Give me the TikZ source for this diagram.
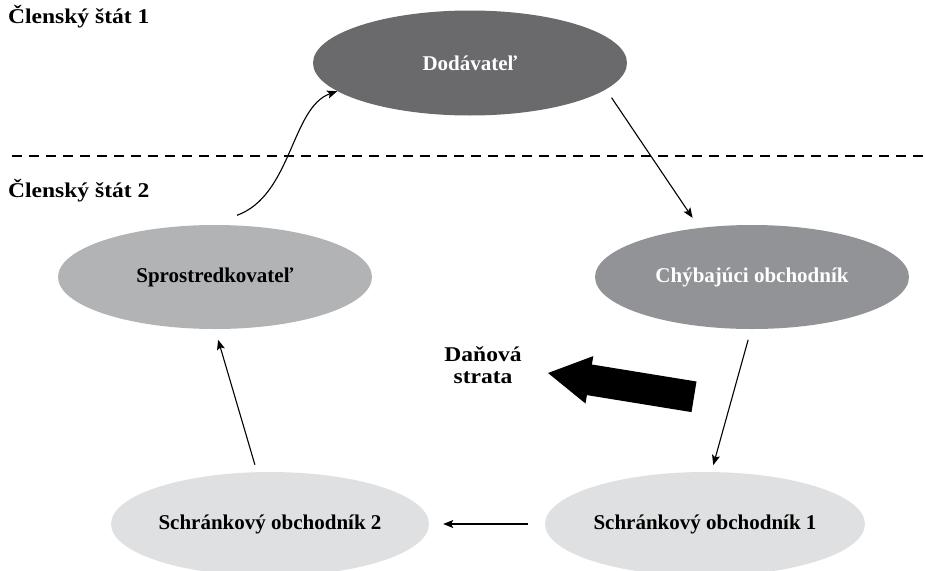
\documentclass[tikz,border=0pt]{standalone}
\usepackage{fontspec}
\setmainfont{Liberation Serif}
\newfontfamily\widefont{Liberation Serif}[FakeStretch=1.12]
\usetikzlibrary{shapes.geometric,arrows.meta}
\definecolor{cdark}{HTML}{6A6A6D}
\definecolor{cmid}{HTML}{929396}
\definecolor{clight}{HTML}{B1B3B5}
\definecolor{cpale}{HTML}{DFE0E1}
\tikzset{
  blob/.style={ellipse, draw=none, inner sep=0pt, minimum width=314pt, minimum height=105pt,
    font=\fontsize{21}{22}\selectfont\bfseries},
  heading/.style={inner sep=0pt, anchor=base west, font=\widefont\fontsize{21}{22}\selectfont\bfseries},
  arr/.style={line width=1.1pt, -{Stealth[length=10pt,width=8pt,inset=2pt]}},
  divider/.style={line width=2.4pt, dash pattern=on 10pt off 7pt},
}
\begin{document}
\begin{tikzpicture}[x=1pt, y=-1pt]
\useasboundingbox (0,0) rectangle (925,570);
% divider and headings
\draw[divider] (12,156) -- (925,156);
\node[heading] (ms1) at (8,23) {Členský štát 1};
\node[heading] (ms2) at (8,197) {Členský štát 2};
% nodes
\node[blob, fill=cdark, text=white] (dod) at (470,63) {Dodávateľ};
\node[blob, fill=cmid, text=white, minimum height=104pt] (chyb) at (752,277) {Chýbajúci obchodník};
\node[blob, fill=clight, minimum height=104pt] (spro) at (215,277) {Sprostredkovateľ};
\node[blob, fill=cpale, minimum width=318pt, minimum height=104pt] (s2) at (270,524) {Schránkový obchodník 2};
\node[blob, fill=cpale, minimum width=320pt, minimum height=104pt] (s1) at (705,524) {Schránkový obchodník 1};
\node[font=\widefont\fontsize{21}{22}\selectfont\bfseries, align=center, inner sep=0pt] (loss) at (483,365) {Daňová\\strata};
% big arrow
\fill[black] (548,373) -- (593.3,356.1) -- (591.9,364.5) -- (696.5,381.5) -- (691.5,412.1)
  -- (586.9,395.1) -- (585.5,403.5) -- cycle;
% connectors
\draw[arr] ([yshift=10pt]spro.67) .. controls +(55,-20) and +(-46,16) .. (dod.192);
\draw[arr, shorten <=10pt, shorten >=12pt] (dod.-11) -- (chyb.137);
\draw[arr, shorten <=11pt, shorten >=7pt] (chyb.-91) -- (s1.83);
\draw[arr, shorten <=17pt, shorten >=14pt] (s1.west) -- (s2.east);
\draw[arr, shorten <=7.5pt, shorten >=11pt] (s2.104) -- (spro.-90);
\end{tikzpicture}
\end{document}
